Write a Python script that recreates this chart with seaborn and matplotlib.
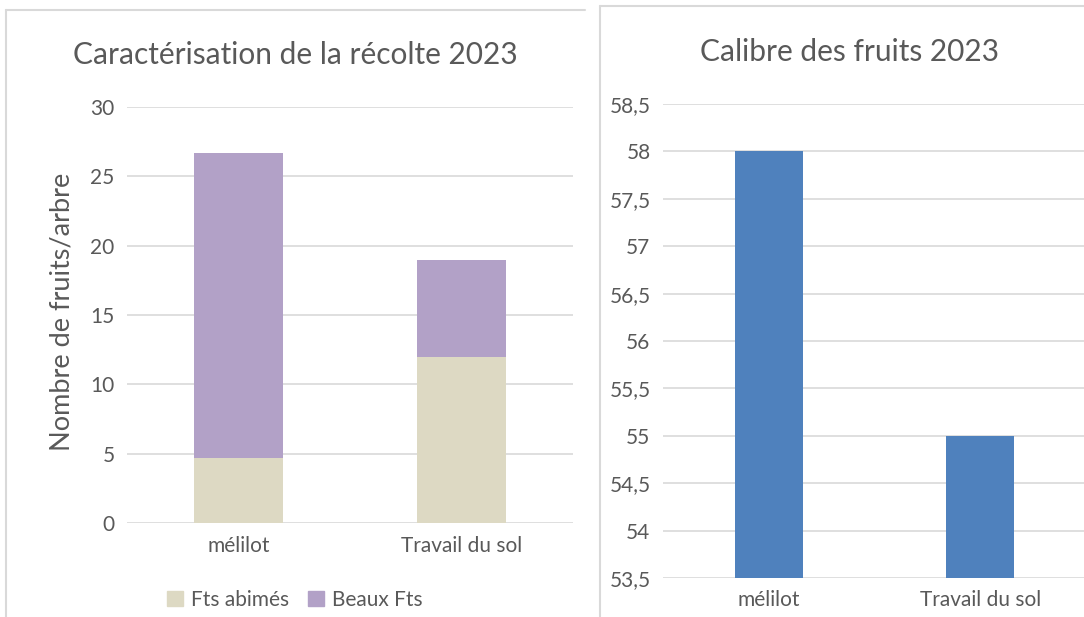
import pandas as pd
import numpy as np
import seaborn as sb
import matplotlib.pyplot as plt
from matplotlib.lines import Line2D
from matplotlib.patches import Patch

# data
categories = ["mélilot", "Travail du sol"]
fts_abimes = [4.7, 12.0]
beaux_fts = [22.0, 7.0]
calibre = [58.0, 55.0]

left_ticks = [0, 5, 10, 15, 20, 25, 30]
right_ticks = [53.5, 54.0, 54.5, 55.0, 55.5, 56.0, 56.5, 57.0, 57.5, 58.0, 58.5]

# colours
beige = "#DDD9C3"
purple = "#B2A1C7"
blue = "#4F81BD"
txt = "#595959"
grid = "#D9D9D9"

sb.set_style("white")
plt.rcParams['font.family'] = ['Lato', 'DejaVu Sans']

W, H = 1084, 617
fig = plt.figure(figsize=(W / 100, H / 100), dpi=100)

df = pd.DataFrame({"cat": categories, "abimes": fts_abimes,
                   "total": np.array(fts_abimes) + np.array(beaux_fts),
                   "calibre": calibre})

# left chart: stacked bars
ax1 = fig.add_axes([127 / W, 94 / H, 446 / W, 416 / H])
sb.barplot(data=df, x="cat", y="total", color=purple, width=0.4, saturation=1, ax=ax1, zorder=3, linewidth=0)
sb.barplot(data=df, x="cat", y="abimes", color=beige, width=0.4, saturation=1, ax=ax1, zorder=3, linewidth=0)
ax1.set_ylim(0, 30)
ax1.set_xlim(-0.5, 1.5)
ax1.set_yticks(left_ticks)
ax1.set_yticklabels([str(t) for t in left_ticks])
for t in left_ticks:
    ax1.axhline(t, color=grid, lw=1.2, zorder=1)
ax1.set_xlabel("")
ax1.set_ylabel("")

# right chart: calibre
ax2 = fig.add_axes([663 / W, 39 / H, 423 / W, 474 / H])
sb.barplot(data=df, x="cat", y="calibre", color=blue, width=0.32, saturation=1, ax=ax2, zorder=3, linewidth=0)
ax2.set_ylim(53.5, 58.5)
ax2.set_xlim(-0.5, 1.5)
ax2.set_yticks(right_ticks)
ax2.set_yticklabels([("%g" % t).replace(".", ",") for t in right_ticks])
for t in right_ticks:
    ax2.axhline(t, color=grid, lw=1.2, zorder=1)
ax2.set_xlabel("")
ax2.set_ylabel("")

for ax in (ax1, ax2):
    for s in ax.spines.values():
        s.set_visible(False)
    ax.tick_params(axis="both", length=0, labelsize=15, labelcolor=txt, pad=9)

# titles and y label
fig.text(295 / W, 1 - 55 / H, "Caractérisation de la récolte 2023", fontsize=21.5, color=txt,
         ha="center", va="center")
fig.text(849 / W, 1 - 52 / H, "Calibre des fruits 2023", fontsize=21.5, color=txt,
         ha="center", va="center")
fig.text(62 / W, 1 - 312 / H, "Nombre de fruits/arbre", fontsize=19.5, color=txt,
         rotation=90, ha="center", va="center")

# legend
leg_handles = [Patch(color=beige, label="Fts abimés"), Patch(color=purple, label="Beaux Fts")]
fig.legend(handles=leg_handles, loc="center", bbox_to_anchor=(295 / W, 1 - 600 / H), ncol=2,
           frameon=False, fontsize=15, labelcolor=txt, handlelength=0.75, handleheight=0.75,
           handletextpad=0.4, columnspacing=0.9)

# chart borders
fig.add_artist(Line2D([6 / W, 585 / W], [1 - 10 / H, 1 - 10 / H], color=grid, lw=1.5))
fig.add_artist(Line2D([6 / W, 6 / W], [0, 1 - 10 / H], color=grid, lw=1.5))
fig.add_artist(Line2D([600 / W, 1], [1 - 6 / H, 1 - 6 / H], color=grid, lw=1.5))
fig.add_artist(Line2D([600 / W, 600 / W], [0, 1 - 6 / H], color=grid, lw=1.5))

fig.savefig("out.png", dpi=100)
